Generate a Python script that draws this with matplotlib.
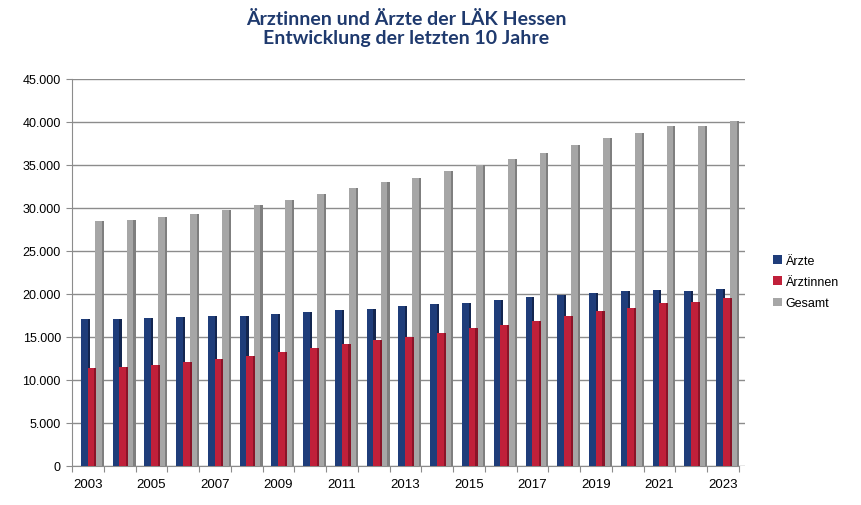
import numpy as np
import matplotlib.pyplot as plt
from matplotlib.ticker import FuncFormatter, FixedLocator

# ================= DATA =================
YEARS = list(range(2003, 2024))
AERZTE = [17100, 17100, 17200, 17300, 17400, 17500, 17700, 17900, 18100, 18300,
          18600, 18800, 19000, 19300, 19600, 19900, 20100, 20300, 20500, 20400, 20600]
AERZTINNEN = [11400, 11500, 11700, 12100, 12400, 12800, 13200, 13700, 14200, 14700,
              15000, 15500, 16000, 16400, 16900, 17400, 18000, 18400, 19000, 19100, 19500]
GESAMT = [28500, 28600, 28900, 29300, 29800, 30300, 30900, 31600, 32300, 33000,
          33500, 34300, 35000, 35700, 36400, 37300, 38100, 38700, 39500, 39500, 40100]
LABELS = ["Ärzte", "Ärztinnen", "Gesamt"]

# ================= STYLE =================
COLORS = ["#1f3d7a", "#c0203a", "#a6a6a6"]
SHADES = ["#132650", "#8a1428", "#7f7f7f"]
TITLE_COLOR = "#1f3a6e"
GRID_COLOR = "#8c8c8c"
BAR_W = 0.28
OFFSETS = [-0.08, 0.13, 0.36]

plt.rcParams["font.family"] = ["Liberation Sans", "DejaVu Sans"]

fig = plt.figure(figsize=(8.61, 5.06), dpi=100, facecolor="white")
ax = fig.add_axes([72 / 861, 1 - 467 / 506, 673 / 861, 387 / 506])

x = np.arange(len(YEARS))
series = [AERZTE, AERZTINNEN, GESAMT]
zorders = [3, 4, 2]
for vals, off, col, shade, lab, z in zip(series, OFFSETS, COLORS, SHADES, LABELS, zorders):
    ax.bar(x + off, vals, width=BAR_W, color=col, label=lab, zorder=z, linewidth=0)
    # darker right side for the 3D look
    ax.bar(x + off + BAR_W * 0.38, vals, width=BAR_W * 0.24, color=shade,
           zorder=z, linewidth=0)

ax.set_ylim(0, 45000)
ax.set_xlim(-0.5, 20.69)
ax.yaxis.set_major_locator(FixedLocator(np.arange(0, 45001, 5000)))
ax.yaxis.set_major_formatter(FuncFormatter(lambda v, p: f"{int(v):,}".replace(",", ".")))
ax.yaxis.grid(True, color=GRID_COLOR, linewidth=1.0, zorder=0)
ax.set_axisbelow(True)

# category boundaries as ticks, labels every second year
ax.set_xticks(np.arange(-0.5, 21, 1.0))
ax.set_xticklabels([])
ax.set_xticks(x[::2], minor=True)
ax.set_xticklabels([str(y) for y in YEARS[::2]], minor=True)
ax.tick_params(axis="x", which="minor", length=0, pad=9, labelsize=9.5)
ax.tick_params(axis="x", which="major", length=4, color=GRID_COLOR)
ax.tick_params(axis="y", length=4, color=GRID_COLOR, labelsize=9, pad=4)

for side in ["top", "right"]:
    ax.spines[side].set_visible(False)
ax.spines["left"].set_color(GRID_COLOR)
ax.spines["bottom"].set_color(GRID_COLOR)
ax.spines["bottom"].set_bounds(-0.5, 20.5)

fig.text(406 / 861, 0.978, "Ärztinnen und Ärzte der LÄK Hessen\nEntwicklung der letzten 10 Jahre",
         ha="center", va="top", fontsize=14, fontweight="bold", color=TITLE_COLOR,
         family=["Lato", "DejaVu Sans"], linespacing=1.15)

leg = fig.legend(loc="center left", bbox_to_anchor=(768 / 861, 1 - 283 / 506),
                 frameon=False, fontsize=9, handlelength=0.7, handleheight=0.7,
                 handletextpad=0.3, labelspacing=0.75, borderaxespad=0)

fig.savefig("out.png", dpi=100, facecolor="white")
